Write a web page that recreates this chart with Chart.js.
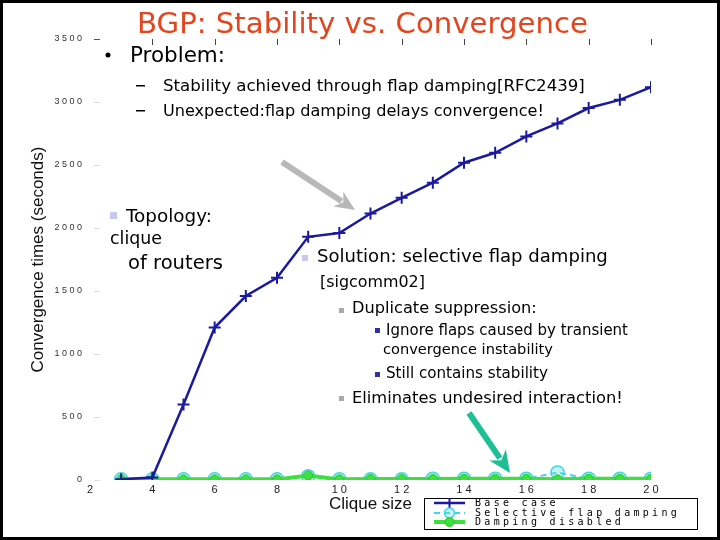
<!DOCTYPE html>
<html>
<head>
<meta charset="utf-8">
<script src="https://cdn.jsdelivr.net/npm/chart.js@4.4.1/dist/chart.umd.min.js"></script>
<style>
  html, body { margin: 0; padding: 0; background: #fff; }
  #wrap { width: 720px; height: 540px; }
</style>
</head>
<body>
<div id="wrap"><canvas id="chart" width="720" height="540"></canvas></div>
<script>
// clique size on x, convergence time (seconds) on y
const cliqueSizes = [3, 4, 5, 6, 7, 8, 9, 10, 11, 12, 13, 14, 15, 16, 17, 18, 19, 20];
const baseCase = [5, 20, 600, 1210, 1460, 1605, 1930, 1960, 2115, 2240, 2360, 2518, 2597, 2727, 2830, 2952, 3017, 3118];
const selectiveDamping = [5, 5, 5, 5, 5, 5, 30, 5, 5, 5, 10, 10, 10, 10, 60, 10, 10, 10];
const dampingDisabled = [5, 5, 5, 5, 5, 5, 35, 5, 8, 8, 8, 10, 10, 10, 5, 10, 10, 10];
const xTicks = [2, 4, 6, 8, 10, 12, 14, 16, 18, 20];
const yTicks = [0, 500, 1000, 1500, 2000, 2500, 3000, 3500];

const seriesNames = ['Base case', 'Selective flap damping', 'Damping disabled'];

const spaced = v => String(v).split('').join(' ');
const toPts = vals => vals.map((v, i) => ({ x: cliqueSizes[i], y: v }));

const data = {
  datasets: [
    {
      label: seriesNames[0],
      data: toPts(baseCase),
      borderColor: '#1a1a9e',
      borderWidth: 2.5,
      pointStyle: 'cross',
      pointRadius: 6,
      pointBorderWidth: 2,
      pointBorderColor: '#1a1a9e',
      tension: 0,
      order: 0
    },
    {
      label: seriesNames[1],
      data: toPts(selectiveDamping),
      borderColor: '#3fd6e0',
      borderWidth: 2,
      borderDash: [6, 4],
      pointStyle: 'circle',
      pointRadius: 6.5,
      pointBorderWidth: 1.5,
      pointBorderColor: '#3fd6e0',
      pointBackgroundColor: 'rgba(90,220,220,0.35)',
      tension: 0,
      order: 2
    },
    {
      label: seriesNames[2],
      data: toPts(dampingDisabled),
      borderColor: '#3ee03e',
      borderWidth: 4,
      pointStyle: 'circle',
      pointRadius: 4.5,
      pointBorderWidth: 1,
      pointBorderColor: '#28c828',
      pointBackgroundColor: '#3ee03e',
      tension: 0,
      order: 1
    }
  ]
};

function fitText(ctx, text, x, baseline, width, family, color) {
  ctx.font = '40px ' + family;
  const size = 40 * width / ctx.measureText(text).width;
  ctx.font = size.toFixed(2) + 'px ' + family;
  ctx.fillStyle = color;
  ctx.textAlign = 'left';
  ctx.textBaseline = 'alphabetic';
  ctx.fillText(text, x, baseline);
}

function arrow(ctx, x1, y1, x2, y2, w, color, headLen, headW) {
  const a = Math.atan2(y2 - y1, x2 - x1);
  const bx = x2 - Math.cos(a) * headLen, by = y2 - Math.sin(a) * headLen;
  ctx.save();
  ctx.strokeStyle = color;
  ctx.fillStyle = color;
  ctx.lineWidth = w;
  ctx.beginPath();
  ctx.moveTo(x1, y1);
  ctx.lineTo(bx + Math.cos(a) * 4, by + Math.sin(a) * 4);
  ctx.stroke();
  ctx.beginPath();
  ctx.moveTo(x2, y2);
  ctx.lineTo(bx + Math.sin(a) * headW / 2, by - Math.cos(a) * headW / 2);
  ctx.lineTo(bx + Math.cos(a) * headLen * 0.3, by + Math.sin(a) * headLen * 0.3);
  ctx.lineTo(bx - Math.sin(a) * headW / 2, by + Math.cos(a) * headW / 2);
  ctx.closePath();
  ctx.fill();
  ctx.restore();
}

function bullet(ctx, x, y, s, color) {
  ctx.fillStyle = color;
  ctx.fillRect(x, y, s, s);
}

const decor = {
  id: 'decor',
  afterDraw(chart) {
    const ctx = chart.ctx;
    const xs = chart.scales.x, ys = chart.scales.y;
    const area = chart.chartArea;
    ctx.save();

    // short tick marks inside the top and left edges
    ctx.strokeStyle = '#444';
    ctx.lineWidth = 1;
    xTicks.slice(1).forEach(v => {
      const px = Math.round(xs.getPixelForValue(v)) + 0.5;
      ctx.beginPath();
      ctx.moveTo(px, area.top);
      ctx.lineTo(px, area.top + 6);
      ctx.stroke();
    });
    yTicks.forEach(v => {
      const py = Math.round(ys.getPixelForValue(v)) + 0.5;
      ctx.strokeStyle = v === 3500 ? '#555' : '#ddd';
      ctx.beginPath();
      ctx.moveTo(area.left + 4, py);
      ctx.lineTo(area.left + 10, py);
      ctx.stroke();
    });

    // slide text
    const fam = '"DejaVu Sans"';
    fitText(ctx, 'BGP: Stability vs. Convergence', 137, 33, 451, fam, '#e2461e');
    ctx.fillStyle = '#000';
    ctx.beginPath();
    ctx.arc(108, 55, 2.5, 0, Math.PI * 2);
    ctx.fill();
    fitText(ctx, 'Problem:', 130, 62, 95, fam, '#000');
    ctx.fillRect(136, 85, 9, 1.5);
    fitText(ctx, 'Stability achieved through flap damping[RFC2439]', 163, 91, 422, fam, '#000');
    ctx.fillRect(136, 110, 9, 1.5);
    fitText(ctx, 'Unexpected:flap damping delays convergence!', 163, 116, 381, fam, '#000');

    bullet(ctx, 110, 212, 7, '#c8c8ee');
    fitText(ctx, 'Topology:', 126, 222, 86, fam, '#000');
    fitText(ctx, 'clique', 110, 244, 52, fam, '#000');
    fitText(ctx, 'of routers', 128, 269, 95, fam, '#000');

    bullet(ctx, 302, 255, 6, '#c8c8ee');
    fitText(ctx, 'Solution: selective flap damping', 317, 262, 291, fam, '#000');
    fitText(ctx, '[sigcomm02]', 320, 287, 105, fam, '#000');
    bullet(ctx, 339, 308, 5, '#aaa');
    fitText(ctx, 'Duplicate suppression:', 352, 313, 185, fam, '#000');
    bullet(ctx, 375, 328, 5, '#3030a0');
    fitText(ctx, 'Ignore flaps caused by transient', 386, 335, 242, fam, '#000');
    fitText(ctx, 'convergence instability', 383, 354, 170, fam, '#000');
    bullet(ctx, 375, 372, 5, '#3030a0');
    fitText(ctx, 'Still contains stability', 386, 378, 162, fam, '#000');
    bullet(ctx, 339, 396, 5, '#aaa');
    fitText(ctx, 'Eliminates undesired interaction!', 352, 403, 271, fam, '#000');

    arrow(ctx, 282, 162, 355, 210, 6, '#b8b8b8', 20, 18);
    arrow(ctx, 469, 413, 510, 473, 6, '#1fbf95', 22, 20);

    // legend box
    const lx = 424, ly = 498, lw = 273, lh = 31;
    ctx.fillStyle = '#fff';
    ctx.fillRect(lx, ly, lw, lh);
    ctx.strokeStyle = '#000';
    ctx.lineWidth = 1;
    ctx.strokeRect(lx + 0.5, ly + 0.5, lw, lh);
    const rows = [503, 513, 522];
    chart.data.datasets.forEach((ds, i) => {
      const ry = rows[i];
      ctx.save();
      ctx.strokeStyle = ds.borderColor;
      ctx.lineWidth = ds.borderWidth;
      ctx.setLineDash(ds.borderDash || []);
      ctx.beginPath();
      ctx.moveTo(434, ry);
      ctx.lineTo(465, ry);
      ctx.stroke();
      ctx.restore();

      ctx.save();
      ctx.fillStyle = ds.pointBackgroundColor || ds.borderColor;
      ctx.strokeStyle = ds.pointBorderColor;
      ctx.lineWidth = ds.pointBorderWidth;
      Chart.helpers.drawPoint(ctx, {
        pointStyle: ds.pointStyle,
        radius: Math.min(ds.pointRadius, 5),
        borderWidth: ds.pointBorderWidth,
        rotation: 0
      }, 449.5, ry);
      ctx.restore();

      ctx.save();
      ctx.font = '10px "DejaVu Sans Mono"';
      ctx.letterSpacing = '3.3px';
      ctx.fillStyle = '#000';
      ctx.textBaseline = 'middle';
      ctx.textAlign = 'left';
      ctx.fillText(ds.label, 475, ry);
      ctx.restore();
    });

    // slide frame
    ctx.strokeStyle = '#000';
    ctx.lineWidth = 3;
    ctx.strokeRect(1.5, 1.5, 717, 537);
    ctx.restore();
  }
};

const options = {
  responsive: false,
  animation: false,
  devicePixelRatio: 1,
  layout: { padding: { top: 39, right: 69, left: 0, bottom: 0 } },
  plugins: {
    legend: { display: false },
    tooltip: { enabled: false }
  },
  scales: {
    x: {
      type: 'linear',
      min: 2,
      max: 20,
      afterBuildTicks: s => { s.ticks = xTicks.map(v => ({ value: v })); },
      afterFit: s => { s.height = 60; },
      grid: { display: false, drawTicks: false },
      border: { display: false },
      ticks: {
        callback: v => spaced(v),
        font: { family: 'Liberation Sans', size: 11 },
        color: '#222',
        padding: 3,
        maxRotation: 0,
        autoSkip: false
      },
      title: {
        display: true,
        text: 'Clique size',
        font: { family: 'Liberation Sans', size: 17 },
        color: '#111',
        padding: { top: 4, bottom: 25 }
      }
    },
    y: {
      min: 0,
      max: 3500,
      afterBuildTicks: s => { s.ticks = yTicks.map(v => ({ value: v })); },
      afterFit: s => { s.width = 90; },
      grid: { display: false, drawTicks: false },
      border: { display: false },
      ticks: {
        callback: v => spaced(v),
        font: { family: 'Liberation Sans', size: 9 },
        color: '#333',
        padding: 8
      },
      title: {
        display: true,
        text: 'Convergence times (seconds)',
        font: { family: 'Liberation Sans', size: 17 },
        color: '#111',
        padding: { top: 28, bottom: 0 }
      }
    }
  }
};

new Chart(document.getElementById('chart').getContext('2d'), {
  type: 'line',
  data: data,
  options: options,
  plugins: [decor]
});
</script>
</body>
</html>
